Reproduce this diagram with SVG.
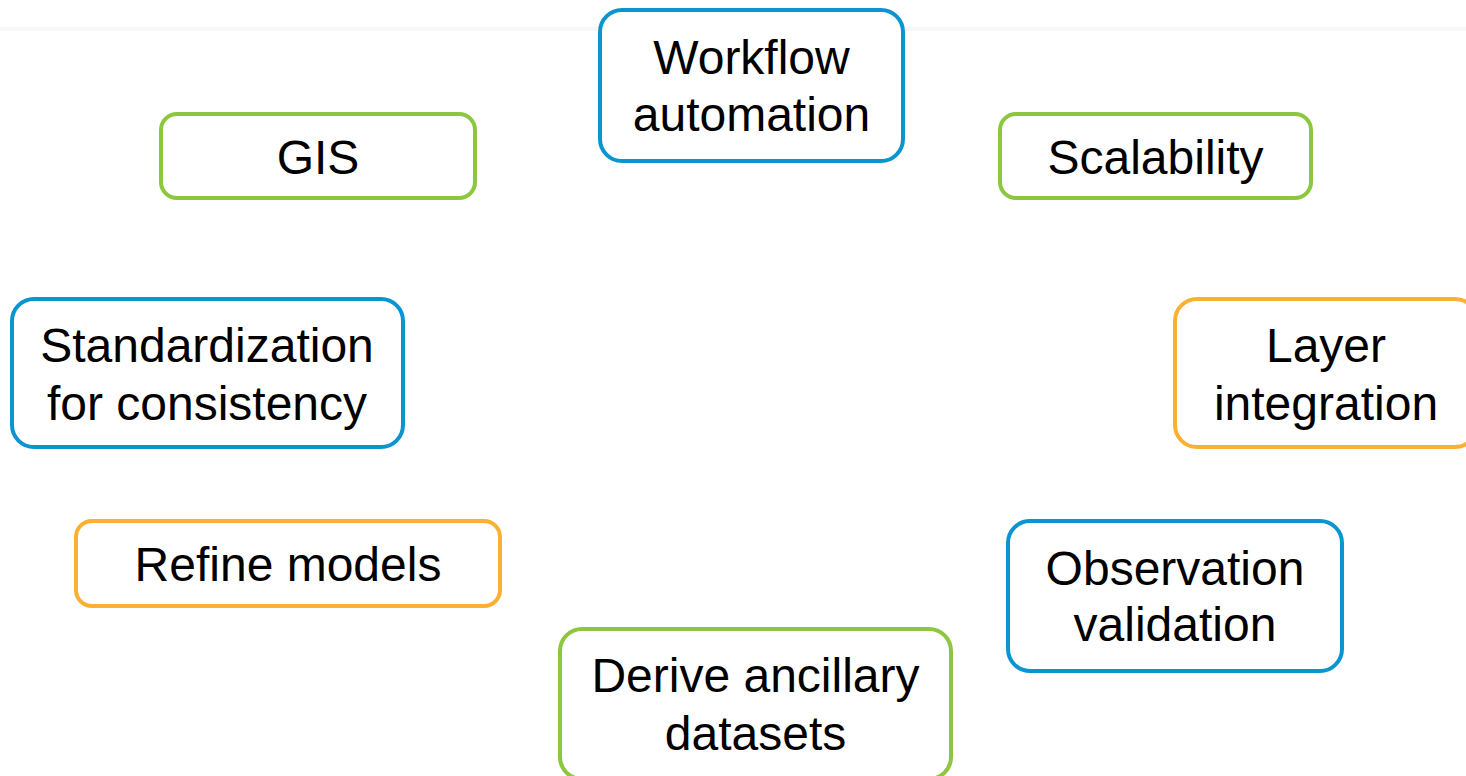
<svg xmlns="http://www.w3.org/2000/svg" width="1466" height="776" viewBox="0 0 1466 776">
<style>
.box{fill:#ffffff;stroke-width:4}
.blue{stroke:#0b95d0}
.green{stroke:#8dc63f}
.orange{stroke:#fbb034}
.lbl{font-family:"Liberation Sans",Arial,sans-serif;font-size:48px;fill:#000000;text-anchor:middle}
</style>
<rect x="0" y="0" width="1466" height="776" fill="#ffffff"/>
<rect x="0" y="27" width="1466" height="4" fill="#f7f7f7"/>
<g id="connectors"></g>
<g id="node-workflow">
<rect class="box blue" x="600" y="10" width="303" height="151" rx="22"/>
<text class="lbl" x="751.5" y="74">Workflow</text>
<text class="lbl" x="751.5" y="131">automation</text>
</g>
<g id="node-gis">
<rect class="box green" x="161" y="114" width="314" height="84" rx="16"/>
<text class="lbl" x="318" y="174">GIS</text>
</g>
<g id="node-scalability">
<rect class="box green" x="1000" y="114" width="311" height="84" rx="16"/>
<text class="lbl" x="1155.5" y="174">Scalability</text>
</g>
<g id="node-standardization">
<rect class="box blue" x="12" y="299" width="391" height="148" rx="22"/>
<text class="lbl" x="207" y="362">Standardization</text>
<text class="lbl" x="207" y="420">for consistency</text>
</g>
<g id="node-layer">
<rect class="box orange" x="1175" y="299" width="302" height="148" rx="22"/>
<text class="lbl" x="1326" y="362">Layer</text>
<text class="lbl" x="1326" y="420">integration</text>
</g>
<g id="node-refine">
<rect class="box orange" x="76" y="521" width="424" height="85" rx="16"/>
<text class="lbl" x="288" y="581">Refine models</text>
</g>
<g id="node-observation">
<rect class="box blue" x="1008" y="521" width="334" height="150" rx="22"/>
<text class="lbl" x="1175" y="585">Observation</text>
<text class="lbl" x="1175" y="641">validation</text>
</g>
<g id="node-derive">
<rect class="box green" x="560" y="629" width="391" height="150" rx="22"/>
<text class="lbl" x="755.5" y="692">Derive ancillary</text>
<text class="lbl" x="755.5" y="750">datasets</text>
</g>
</svg>
